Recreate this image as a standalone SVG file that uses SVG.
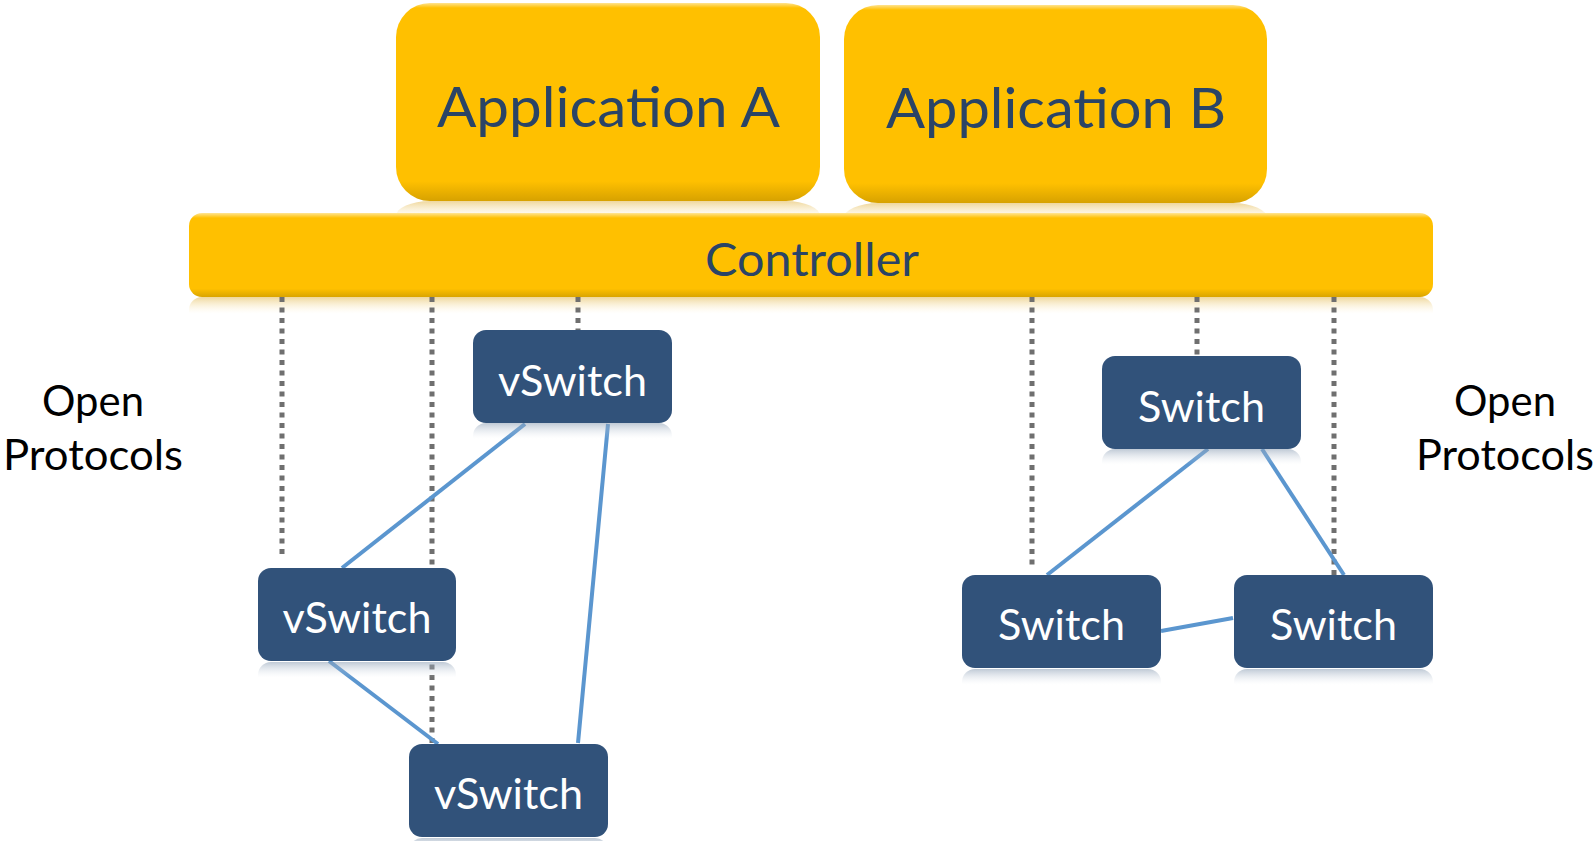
<svg xmlns="http://www.w3.org/2000/svg" width="1596" height="841" viewBox="0 0 1596 841">
  <defs>
    <linearGradient id="appGrad" x1="0" y1="0" x2="0" y2="1">
      <stop offset="0" stop-color="#FFE38F"/>
      <stop offset="0.025" stop-color="#FFC000"/>
      <stop offset="0.9" stop-color="#FFC000"/>
      <stop offset="1" stop-color="#D7A200"/>
    </linearGradient>
    <linearGradient id="ctrlGrad" x1="0" y1="0" x2="0" y2="1">
      <stop offset="0" stop-color="#FFE594"/>
      <stop offset="0.06" stop-color="#FFC000"/>
      <stop offset="0.9" stop-color="#FFC000"/>
      <stop offset="1" stop-color="#D9A400"/>
    </linearGradient>
    <linearGradient id="yRefl" x1="0" y1="0" x2="0" y2="1">
      <stop offset="0" stop-color="#E9C97A" stop-opacity="0.75"/>
      <stop offset="0.6" stop-color="#FFF3D0" stop-opacity="0"/>
    </linearGradient>
    <linearGradient id="bRefl" x1="0" y1="0" x2="0" y2="1">
      <stop offset="0" stop-color="#8A9DB3" stop-opacity="0.55"/>
      <stop offset="0.6" stop-color="#D8E0EA" stop-opacity="0"/>
    </linearGradient>
    <style>
      .app { fill: url(#appGrad); }
      .ctrl { fill: url(#ctrlGrad); }
      .yrefl { fill: url(#yRefl); }
      .brefl { fill: url(#bRefl); }
      .node { fill: #31527A; }
      .big { font-family: Lato, "Open Sans", sans-serif; fill: #2A4466; text-anchor: middle; }
      .nlabel { font-family: Lato, "Open Sans", sans-serif; fill: #FFFFFF; font-size: 43px; text-anchor: middle; }
      .side { font-family: Lato, "Open Sans", sans-serif; fill: #000000; font-size: 42px; text-anchor: middle; }
      .ctl { stroke: #6F6F6F; stroke-width: 5; stroke-dasharray: 5 5.5; fill: none; }
      .link { stroke: #5B96CF; stroke-width: 4; fill: none; }
    </style>
  </defs>

  <g id="app-a">
    <rect class="yrefl" x="396" y="201" width="424" height="30" rx="34"/>
    <rect class="app" x="396" y="3" width="424" height="198" rx="34"/>
    <text class="big" x="608.5" y="127" font-size="56" textLength="343" lengthAdjust="spacingAndGlyphs">Application A</text>
  </g>
  <g id="app-b">
    <rect class="yrefl" x="844" y="203" width="423" height="30" rx="34"/>
    <rect class="app" x="844" y="5" width="423" height="198" rx="34"/>
    <text class="big" x="1056" y="128" font-size="56" textLength="340" lengthAdjust="spacingAndGlyphs">Application B</text>
  </g>

  <g id="controller">
    <rect class="yrefl" x="189" y="297" width="1244" height="28" rx="13"/>
    <rect class="ctrl" x="189" y="213" width="1244" height="84" rx="13"/>
    <text class="big" x="812" y="276" font-size="46" textLength="214" lengthAdjust="spacingAndGlyphs">Controller</text>
  </g>

  <g id="connectors">
    <line class="ctl" x1="282" y1="297" x2="282" y2="556"/>
    <line class="ctl" x1="432" y1="297" x2="432" y2="743"/>
    <line class="ctl" x1="578" y1="297" x2="578" y2="330"/>
    <line class="ctl" x1="1032" y1="297" x2="1032" y2="567"/>
    <line class="ctl" x1="1197" y1="297" x2="1197" y2="356"/>
    <line class="ctl" x1="1334" y1="297" x2="1334" y2="575"/>
    <line class="link" x1="525" y1="424" x2="342" y2="568"/>
    <line class="link" x1="608" y1="424" x2="578" y2="743"/>
    <line class="link" x1="329" y1="661" x2="438" y2="744"/>
    <line class="link" x1="1208" y1="449" x2="1047" y2="575"/>
    <line class="link" x1="1262" y1="449" x2="1344" y2="575"/>
    <line class="link" x1="1161" y1="631" x2="1233" y2="618"/>
  </g>

  <g id="vswitch-top">
    <rect class="brefl" x="473" y="423" width="199" height="26" rx="13"/>
    <rect class="node" x="473" y="330" width="199" height="93" rx="13"/>
    <text class="nlabel" x="572.5" y="396" textLength="149" lengthAdjust="spacingAndGlyphs">vSwitch</text>
  </g>
  <g id="vswitch-mid">
    <rect class="brefl" x="258" y="662" width="198" height="26" rx="13"/>
    <rect class="node" x="258" y="568" width="198" height="93" rx="13"/>
    <text class="nlabel" x="357" y="633" textLength="149" lengthAdjust="spacingAndGlyphs">vSwitch</text>
  </g>
  <g id="vswitch-bottom">
    <rect class="brefl" x="409" y="838" width="199" height="26" rx="13"/>
    <rect class="node" x="409" y="744" width="199" height="93" rx="13"/>
    <text class="nlabel" x="508.5" y="809" textLength="149" lengthAdjust="spacingAndGlyphs">vSwitch</text>
  </g>
  <g id="switch-top">
    <rect class="brefl" x="1102" y="449" width="199" height="26" rx="13"/>
    <rect class="node" x="1102" y="356" width="199" height="93" rx="13"/>
    <text class="nlabel" x="1201.5" y="422" textLength="127" lengthAdjust="spacingAndGlyphs">Switch</text>
  </g>
  <g id="switch-left">
    <rect class="brefl" x="962" y="669" width="199" height="26" rx="13"/>
    <rect class="node" x="962" y="575" width="199" height="93" rx="13"/>
    <text class="nlabel" x="1061.5" y="640" textLength="127" lengthAdjust="spacingAndGlyphs">Switch</text>
  </g>
  <g id="switch-right">
    <rect class="brefl" x="1234" y="669" width="199" height="26" rx="13"/>
    <rect class="node" x="1234" y="575" width="199" height="93" rx="13"/>
    <text class="nlabel" x="1333.5" y="640" textLength="127" lengthAdjust="spacingAndGlyphs">Switch</text>
  </g>

  <g id="label-left">
    <text class="side" x="93" y="416" textLength="102" lengthAdjust="spacingAndGlyphs">Open</text>
    <text class="side" x="93" y="470" textLength="180" lengthAdjust="spacingAndGlyphs">Protocols</text>
  </g>
  <g id="label-right">
    <text class="side" x="1505" y="416" textLength="102" lengthAdjust="spacingAndGlyphs">Open</text>
    <text class="side" x="1505" y="470" textLength="178" lengthAdjust="spacingAndGlyphs">Protocols</text>
  </g>
</svg>
